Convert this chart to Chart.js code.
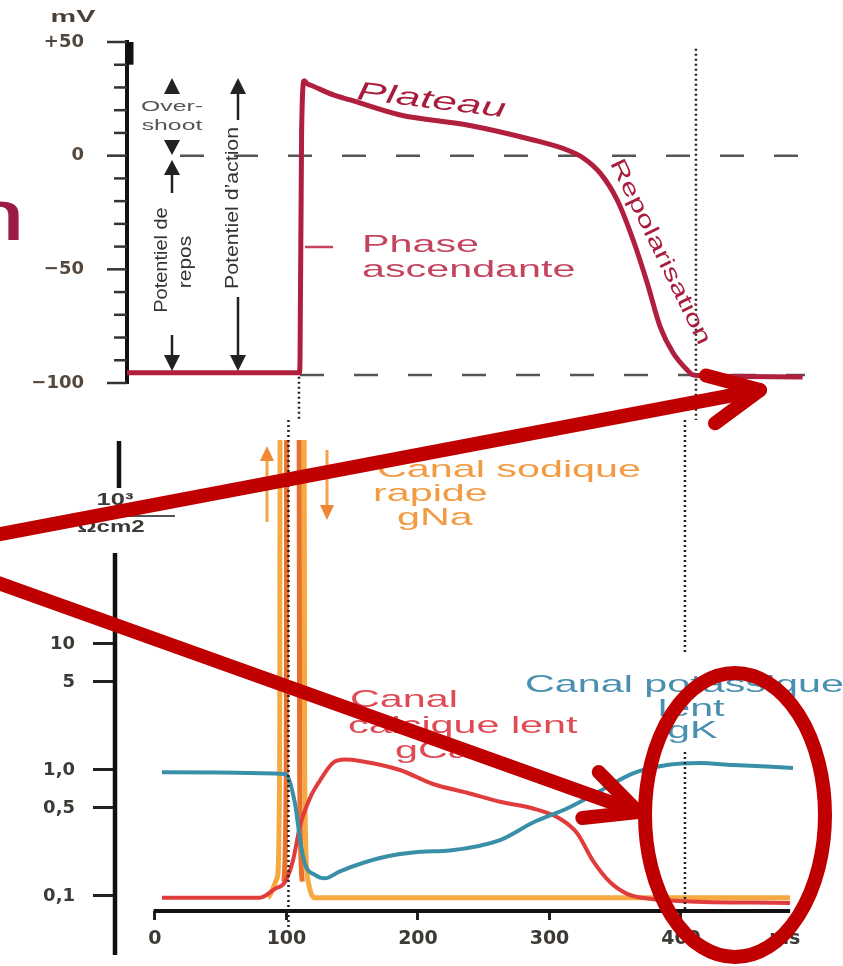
<!DOCTYPE html>
<html>
<head>
<meta charset="utf-8">
<script src="https://cdn.jsdelivr.net/npm/chart.js@4.4.1/dist/chart.umd.min.js"></script>
<style>
  html, body { margin: 0; padding: 0; background: #fff; }
  #wrap { position: relative; width: 843px; height: 966px; overflow: hidden; }
  #wrap canvas { position: absolute; left: 0; top: 0; }
</style>
</head>
<body>
<div id="wrap">
  <canvas id="top" width="843" height="966"></canvas>
  <canvas id="bottom" width="843" height="966"></canvas>
</div>
<script>
// action potential (ms, mV)
const apTime = [-30, 101.8, 102.3, 103.5, 105.5, 108, 110, 127.6, 140.5, 178.4, 229.3, 279.4, 305.2, 317.4, 330.3, 343.2, 355.3, 366, 375.9, 385.7, 396.4, 401, 420, 484];
const apVoltage = [-95.5, -95.5, -90, 10, 33, 31.5, 31.1, 26.7, 24.5, 17.9, 13.5, 6.9, 2.5, -1.0, -7.7, -19.5, -37.1, -56.0, -75.4, -86.8, -94.3, -96.5, -97, -97.4];

// conductances (ms, log scale)
const gKTime = [5.3, 98.9, 106.5, 110.3, 114, 121.7, 129.3, 140.7, 171.1, 201.5, 224.3, 262.4, 287.5, 313.3, 338.4, 363.5, 389.4, 414.4, 439.5, 465.4, 485.2];
const gKValues = [0.96, 0.93, 0.54, 0.28, 0.18, 0.147, 0.138, 0.157, 0.20, 0.224, 0.23, 0.278, 0.383, 0.495, 0.68, 0.94, 1.095, 1.136, 1.095, 1.066, 1.037];

const gCaTime = [5.3, 79.8, 91.3, 98.9, 104.9, 110.3, 117.9, 125.5, 135.4, 144.5, 155.9, 186.3, 211.4, 237.3, 262.4, 287.5, 308, 320.9, 333.1, 346, 359, 376.4, 401.5, 482.9];
const gCaValues = [0.097, 0.097, 0.114, 0.129, 0.19, 0.36, 0.60, 0.825, 1.14, 1.21, 1.18, 1.0, 0.774, 0.66, 0.56, 0.495, 0.41, 0.316, 0.19, 0.129, 0.104, 0.095, 0.091, 0.088];

const gNaOuterTime = [86, 93, 94.8, 95.2, 113.4, 113.8, 116, 121, 483];
const gNaOuterValues = [0.097, 0.14, 1, 1000, 1000, 1, 0.14, 0.097, 0.097];
const gNaInnerTime = [98, 99.8, 100.2, 109.6, 110, 112];
const gNaInnerValues = [0.13, 1, 1000, 1000, 1, 0.13];

// reference levels and markers
const zeroLevel = 0;
const restLevel = -96.5;
const markerTimes = [101.5, 403];

// tick labels
const mvLabelValues = [50, 0, -50, -100];
const mvLabels = ['+50', '0', '\u221250', '\u2212100'];
const gTickValues = [0.1, 0.5, 1, 5, 10];
const gTickLabels = ['0,1', '0,5', '1,0', '5', '10'];
const timeTickValues = [0, 100, 200, 300, 400, 479];
const timeTickLabels = ['0', '100', '200', '300', '400', 'ms'];

Chart.defaults.font.family = '"DejaVu Sans", sans-serif';

function pts(xs, ys) {
  return xs.map((x, i) => ({ x: x, y: ys[i] }));
}

function label(ctx, txt, x, y, o) {
  ctx.save();
  ctx.translate(x, y);
  if (o.rot) ctx.rotate(o.rot * Math.PI / 180);
  ctx.scale(o.sx || 1, 1);
  ctx.font = (o.style || '') + ' ' + o.size + 'px "Liberation Sans", Arial, sans-serif';
  ctx.fillStyle = o.color;
  ctx.textAlign = o.align || 'left';
  ctx.textBaseline = o.base || 'alphabetic';
  ctx.fillText(txt, 0, 0);
  ctx.restore();
}

function line(ctx, x1, y1, x2, y2, w, color, dash) {
  ctx.save();
  ctx.strokeStyle = color;
  ctx.lineWidth = w;
  if (dash) ctx.setLineDash(dash);
  ctx.beginPath();
  ctx.moveTo(x1, y1);
  ctx.lineTo(x2, y2);
  ctx.stroke();
  ctx.restore();
}

// filled arrow head, dir -1 points up, +1 points down
function head(ctx, x, tip, dir, hw, h, color) {
  ctx.save();
  ctx.fillStyle = color;
  ctx.beginPath();
  ctx.moveTo(x, tip);
  ctx.lineTo(x - hw, tip - dir * h);
  ctx.lineTo(x + hw, tip - dir * h);
  ctx.closePath();
  ctx.fill();
  ctx.restore();
}

function bigArrow(ctx, x1, y1, x2, y2, len, spread, w, color) {
  const a = Math.atan2(y2 - y1, x2 - x1);
  ctx.save();
  ctx.strokeStyle = color;
  ctx.lineWidth = w;
  ctx.lineJoin = 'round';
  ctx.lineCap = 'round';
  ctx.beginPath();
  ctx.moveTo(x1, y1);
  ctx.lineTo(x2, y2);
  ctx.stroke();
  ctx.beginPath();
  ctx.moveTo(x2 - len * Math.cos(a + spread), y2 - len * Math.sin(a + spread));
  ctx.lineTo(x2, y2);
  ctx.lineTo(x2 - len * Math.cos(a - spread), y2 - len * Math.sin(a - spread));
  ctx.stroke();
  ctx.restore();
}

const topDecor = {
  id: 'topDecor',
  beforeDatasetsDraw(chart) {
    const ctx = chart.ctx, x = chart.scales.x, y = chart.scales.y;
    line(ctx, 180, y.getPixelForValue(zeroLevel), 810, y.getPixelForValue(zeroLevel), 2.5, '#555', [24, 30]);
    line(ctx, 300, y.getPixelForValue(restLevel), 805, y.getPixelForValue(restLevel), 2.5, '#555', [24, 30]);
    line(ctx, x.getPixelForValue(markerTimes[0]), y.getPixelForValue(-95), x.getPixelForValue(markerTimes[0]), 420, 2.5, '#222', [2, 3]);
    line(ctx, x.getPixelForValue(markerTimes[1]), y.getPixelForValue(47), x.getPixelForValue(markerTimes[1]), 420, 2.5, '#222', [2, 3]);
  },
  afterDraw(chart) {
    const ctx = chart.ctx, y = chart.scales.y, left = chart.chartArea.left;
    // axis ticks, long ones every 50 mV
    y.ticks.forEach(t => {
      const py = y.getPixelForValue(t.value);
      const len = t.value % 50 === 0 ? 20 : 13;
      line(ctx, left - len, py, left, py, 2.5, '#333');
    });
    line(ctx, 131, y.getPixelForValue(50), 131, y.getPixelForValue(40), 5, '#111');

    label(ctx, 'mV', 73, 18, { size: 16, sx: 1.8, style: 'bold', color: '#4a4038', align: 'center', base: 'middle' });

    // curve labels
    label(ctx, 'Plateau', 356, 99, { size: 26, sx: 1.7, rot: 7, style: 'italic', color: '#a81d3c' });
    label(ctx, 'Phase', 362, 252, { size: 24, sx: 1.72, color: '#c4445e' });
    label(ctx, 'ascendante', 362, 277, { size: 24, sx: 1.72, color: '#c4445e' });
    line(ctx, 305, 247, 333, 247, 2.5, '#c4445e');
    label(ctx, 'Repolarisation', 660, 252, { size: 22, sx: 1.45, rot: 64, color: '#a81d3c', align: 'center', base: 'middle' });

    // overshoot / resting / action potential marks
    const k = '#222';
    head(ctx, 172, 78, -1, 8, 16, k);
    label(ctx, 'Over-', 172, 107, { size: 15, sx: 1.65, color: '#555', align: 'center', base: 'middle' });
    label(ctx, 'shoot', 172, 126, { size: 15, sx: 1.65, color: '#555', align: 'center', base: 'middle' });
    head(ctx, 172, 155, 1, 8, 15, k);
    head(ctx, 172, 160, -1, 8, 15, k);
    line(ctx, 172, 175, 172, 193, 2.5, k);
    label(ctx, 'Potentiel de', 162, 260, { size: 19, sx: 1.05, rot: -90, color: '#333', align: 'center', base: 'middle' });
    label(ctx, 'repos', 186, 262, { size: 19, sx: 1.1, rot: -90, color: '#333', align: 'center', base: 'middle' });
    line(ctx, 172, 335, 172, 356, 2.5, k);
    head(ctx, 172, 371, 1, 8, 16, k);

    head(ctx, 238, 78, -1, 8, 16, k);
    line(ctx, 238, 92, 238, 120, 2.5, k);
    label(ctx, 'Potentiel d\u2019action', 233, 208, { size: 19, sx: 1.12, rot: -90, color: '#333', align: 'center', base: 'middle' });
    line(ctx, 238, 297, 238, 356, 2.5, k);
    head(ctx, 238, 371, 1, 8, 16, k);

    // cut-off slide title letter
    label(ctx, 'n', -38, 240, { size: 72, sx: 1.6, color: '#9b1b45' });
  }
};

const bottomDecor = {
  id: 'bottomDecor',
  afterDraw(chart) {
    const ctx = chart.ctx, x = chart.scales.x, y = chart.scales.y;
    const bottom = chart.chartArea.bottom;

    // broken vertical axis and time axis
    line(ctx, 115, 553, 115, 955, 4.5, '#111');
    line(ctx, 119, 441, 119, 488, 4.5, '#111');
    line(ctx, x.getPixelForValue(-1), bottom, x.getPixelForValue(483), bottom, 4, '#111');

    // unit
    label(ctx, '10\u00b3', 115, 500, { size: 17, sx: 1.5, style: 'bold', color: '#3d3a36', align: 'center', base: 'middle' });
    line(ctx, 70, 516, 175, 516, 2, '#555');
    label(ctx, '\u03a9cm2', 111, 528, { size: 16, sx: 1.5, style: 'bold', color: '#3d3a36', align: 'center', base: 'middle' });

    // dotted time markers
    const m0 = x.getPixelForValue(markerTimes[0]), m1 = x.getPixelForValue(markerTimes[1]);
    line(ctx, m0, 420, m0, 928, 2.5, '#222', [2, 3]);
    line(ctx, m1, 420, m1, 655, 2.5, '#222', [2, 3]);
    line(ctx, m1, 752, m1, bottom, 2.5, '#222', [2, 3]);

    // opening / closing arrows of the Na channel
    line(ctx, 267, 522, 267, 460, 3, '#f6a24a');
    head(ctx, 267, 446, -1, 7, 15, '#f28a35');
    line(ctx, 327, 450, 327, 505, 3, '#f6a24a');
    head(ctx, 327, 520, 1, 7, 15, '#ef8633');

    // channel labels
    const o = { size: 24, sx: 1.72, color: '#f29b43' };
    label(ctx, 'Canal sodique', 377, 477, o);
    label(ctx, 'rapide', 373, 501, o);
    label(ctx, 'gNa', 397, 525, o);
    const r = { size: 24, sx: 1.72, color: '#e04a55' };
    label(ctx, 'Canal', 350, 707, r);
    label(ctx, 'calcique lent', 348, 733, r);
    label(ctx, 'gCa', 395, 758, r);
    const b = { size: 24, sx: 1.72, color: '#4a8fb0' };
    label(ctx, 'Canal potassique', 525, 692, b);
    label(ctx, 'lent', 658, 716, b);
    label(ctx, 'gK', 667, 738, b);

    // slide annotations on top
    const red = '#c00000';
    bigArrow(ctx, -10, 536, 760, 390, 56, 0.45, 14, red);
    bigArrow(ctx, -10, 580, 638, 812, 56, 0.45, 14, red);
    ctx.save();
    ctx.strokeStyle = red;
    ctx.lineWidth = 14;
    ctx.beginPath();
    ctx.ellipse(735, 815, 90, 142, 0, 0, Math.PI * 2);
    ctx.stroke();
    ctx.restore();
  }
};

new Chart(document.getElementById('top'), {
  type: 'line',
  data: {
    datasets: [{
      data: pts(apTime, apVoltage),
      borderColor: '#b01f3e',
      borderWidth: 5,
      pointRadius: 0,
      cubicInterpolationMode: 'monotone',
      fill: false
    }]
  },
  options: {
    responsive: false,
    animation: false,
    devicePixelRatio: 1,
    layout: { padding: { top: 42, right: 40, bottom: 583, left: 0 } },
    plugins: { legend: { display: false }, tooltip: { enabled: false } },
    scales: {
      x: { type: 'linear', display: false, min: -29.1, max: 484.3 },
      y: {
        min: -100,
        max: 50,
        afterFit: s => { s.width = 127; s.paddingTop = 0; s.paddingBottom = 0; },
        ticks: {
          stepSize: 10,
          autoSkip: false,
          padding: 43,
          color: '#54483d',
          font: { size: 18, weight: 'bold' },
          callback: v => {
            const i = mvLabelValues.indexOf(v);
            return i < 0 ? '' : mvLabels[i];
          }
        },
        grid: { drawOnChartArea: false, drawTicks: false },
        border: { display: true, width: 4, color: '#111' }
      }
    }
  },
  plugins: [topDecor]
});

new Chart(document.getElementById('bottom'), {
  type: 'line',
  data: {
    datasets: [
      { label: 'gK', data: pts(gKTime, gKValues), borderColor: '#3a8fa8', borderWidth: 4 },
      { label: 'gCa', data: pts(gCaTime, gCaValues), borderColor: '#e03c3c', borderWidth: 4 },
      { label: 'gNa', data: pts(gNaInnerTime, gNaInnerValues), borderColor: '#e8702a', borderWidth: 5 },
      { label: 'gNa', data: pts(gNaOuterTime, gNaOuterValues), borderColor: '#f6a941', borderWidth: 5 }
    ].map(d => Object.assign(d, { pointRadius: 0, cubicInterpolationMode: 'monotone', fill: false }))
  },
  options: {
    responsive: false,
    animation: false,
    devicePixelRatio: 1,
    layout: { padding: { top: 440, right: 43, bottom: 0, left: 0 } },
    plugins: { legend: { display: false }, tooltip: { enabled: false } },
    scales: {
      x: {
        type: 'linear',
        min: -30.4,
        max: 490.5,
        afterFit: s => { s.height = 55; },
        afterBuildTicks: s => { s.ticks = timeTickValues.map(v => ({ value: v })); },
        ticks: {
          autoSkip: false,
          maxRotation: 0,
          padding: 8,
          color: '#3d3a36',
          font: { size: 19, weight: 'bold' },
          callback: v => timeTickLabels[timeTickValues.indexOf(v)]
        },
        grid: {
          drawOnChartArea: false,
          tickLength: 9,
          tickWidth: 3,
          tickColor: c => (c.tick && c.tick.value === 479) ? 'rgba(0,0,0,0)' : '#222'
        },
        border: { display: false }
      },
      y: {
        type: 'logarithmic',
        min: 0.076,
        max: 416,
        afterFit: s => { s.width = 115; },
        afterBuildTicks: s => { s.ticks = gTickValues.map(v => ({ value: v })); },
        ticks: {
          autoSkip: false,
          padding: 18,
          color: '#3d3a36',
          font: { size: 18, weight: 'bold' },
          callback: v => gTickLabels[gTickValues.indexOf(v)]
        },
        grid: { drawOnChartArea: false, tickLength: 22, tickWidth: 3, tickColor: '#222' },
        border: { display: false }
      }
    }
  },
  plugins: [bottomDecor]
});
</script>
</body>
</html>
